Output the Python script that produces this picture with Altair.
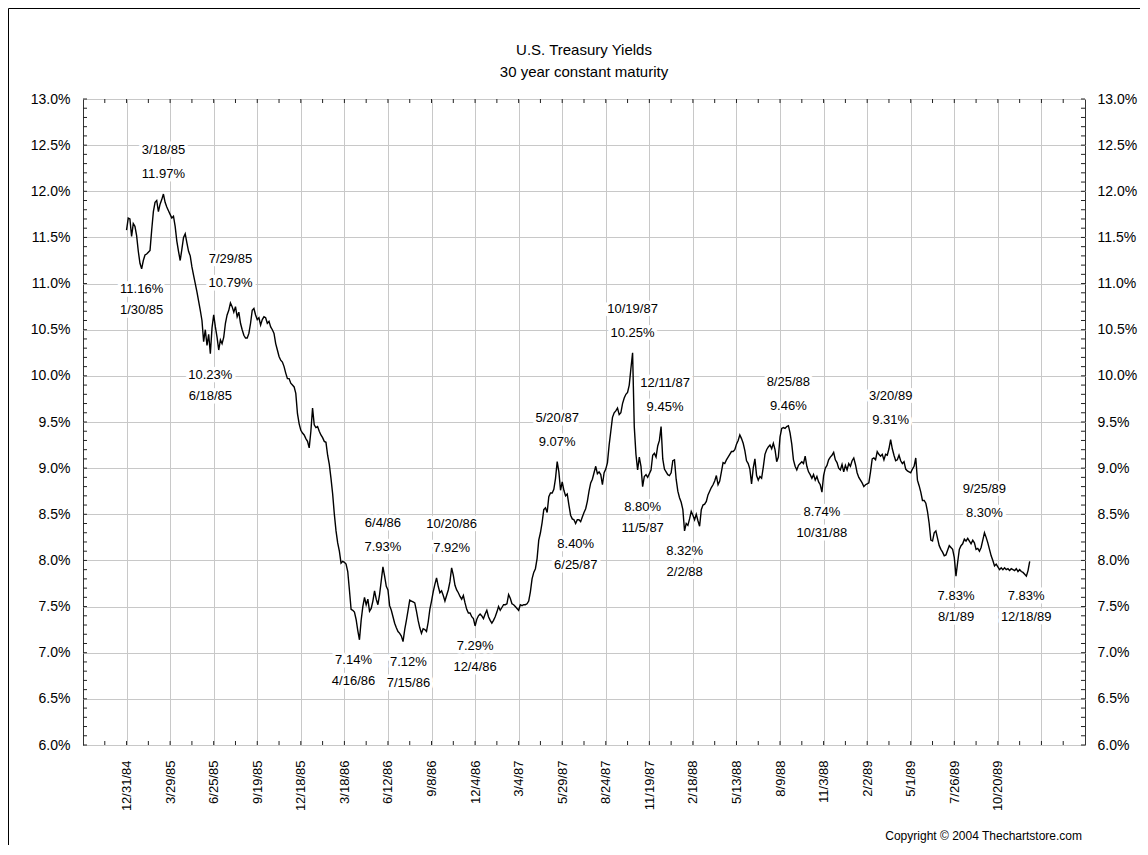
import altair as alt
import pandas as pd

TITLE = "U.S. Treasury Yields"
SUBTITLE = "30 year constant maturity"
COPYRIGHT = "Copyright © 2004 Thechartstore.com"
FONT = "Liberation Sans"

# x axis: one unit = one labelled period (~62 trading days)
date_labels = ["12/31/84", "3/29/85", "6/25/85", "9/19/85", "12/18/85", "3/18/86",
               "6/12/86", "9/8/86", "12/4/86", "3/4/87", "5/29/87", "8/24/87",
               "11/19/87", "2/18/88", "5/13/88", "8/9/88", "11/3/88", "2/2/89",
               "5/1/89", "7/26/89", "10/20/89"]

# yields sampled 26 times per period, starting 12/31/84
SAMPLES_PER_PERIOD = 26
yields = [
    11.58, 11.71, 11.70, 11.51, 11.65, 11.62, 11.52, 11.35, 11.22, 11.16,
    11.25, 11.31, 11.32, 11.34, 11.36, 11.58, 11.78, 11.88, 11.90, 11.78,
    11.86, 11.91, 11.97, 11.88, 11.83, 11.79, 11.75, 11.71, 11.73, 11.62,
    11.46, 11.35, 11.25, 11.37, 11.50, 11.54, 11.44, 11.35, 11.30, 11.18,
    11.09, 11.00, 10.91, 10.81, 10.71, 10.60, 10.37, 10.50, 10.33, 10.45,
    10.24, 10.52, 10.66, 10.53, 10.42, 10.28, 10.39, 10.35, 10.42, 10.57,
    10.66, 10.71, 10.79, 10.75, 10.69, 10.75, 10.64, 10.69, 10.57, 10.50,
    10.44, 10.41, 10.41, 10.46, 10.57, 10.71, 10.73, 10.66, 10.61, 10.63,
    10.55, 10.61, 10.64, 10.63, 10.57, 10.59, 10.53, 10.50, 10.46, 10.35,
    10.28, 10.21, 10.17, 10.15, 10.10, 10.03, 9.97, 9.97, 9.92, 9.90,
    9.88, 9.81, 9.59, 9.48,
    9.41, 9.38, 9.36, 9.32, 9.29, 9.22, 9.40, 9.65, 9.47, 9.44,
    9.45, 9.40, 9.36, 9.33, 9.29, 9.28, 9.14, 9.04, 8.89, 8.72,
    8.50, 8.32, 8.19, 8.10, 7.97, 7.99, 7.98, 7.96, 7.88, 7.68,
    7.47, 7.46, 7.44, 7.36, 7.24, 7.14, 7.35, 7.50, 7.60, 7.52,
    7.58, 7.45, 7.48, 7.56, 7.67, 7.58, 7.52, 7.63, 7.78, 7.93,
    7.83, 7.72, 7.68, 7.51, 7.46, 7.39, 7.32, 7.27, 7.23, 7.21,
    7.18, 7.12, 7.25, 7.35, 7.46, 7.57, 7.56, 7.55, 7.54, 7.45,
    7.35, 7.27, 7.21, 7.26, 7.25, 7.23, 7.33, 7.47, 7.56, 7.66,
    7.74, 7.81, 7.72, 7.65, 7.67, 7.62, 7.56, 7.62, 7.68, 7.77,
    7.92, 7.84, 7.73, 7.68, 7.65, 7.61, 7.58, 7.62, 7.54, 7.47,
    7.43, 7.43, 7.39, 7.37, 7.29, 7.36, 7.40,
    7.42, 7.40, 7.37, 7.42, 7.46, 7.39, 7.35, 7.32, 7.35, 7.39,
    7.44, 7.50, 7.46, 7.49, 7.52, 7.52, 7.53, 7.63, 7.59, 7.53,
    7.52, 7.50, 7.48, 7.46, 7.52, 7.51, 7.52, 7.52, 7.53, 7.56,
    7.66, 7.80, 7.87, 7.91, 8.02, 8.22, 8.30, 8.41, 8.55, 8.57,
    8.52, 8.69, 8.73, 8.73, 8.77, 8.89, 9.07, 8.96, 8.76, 8.85,
    8.76, 8.70, 8.72, 8.60, 8.49, 8.45, 8.44, 8.40, 8.44, 8.44,
    8.42, 8.47, 8.52, 8.56, 8.64, 8.75, 8.84, 8.88, 8.95, 9.02,
    8.94, 8.96, 8.93, 8.82, 8.95, 8.99, 9.06, 9.25, 9.40, 9.55,
    9.60, 9.62, 9.65, 9.58, 9.60, 9.70, 9.76, 9.80, 9.82, 9.90,
    10.08, 10.25, 9.45, 9.15, 8.98, 9.12, 9.02, 8.80, 8.91, 8.93,
    8.90, 8.94, 8.98, 9.14, 9.16, 9.12, 9.24, 9.30,
    9.45, 9.10, 8.99, 8.96, 8.93, 8.92, 8.95, 9.08, 9.09, 8.88,
    8.75, 8.68, 8.63, 8.55, 8.32, 8.40, 8.38, 8.45, 8.53, 8.49,
    8.44, 8.50, 8.43, 8.37, 8.55, 8.60, 8.61, 8.64, 8.71, 8.75,
    8.79, 8.82, 8.86, 8.92, 8.82, 8.86, 8.96, 9.06, 9.05, 9.09,
    9.12, 9.15, 9.18, 9.18, 9.20, 9.26, 9.30, 9.36, 9.32, 9.27,
    9.19, 9.08, 9.05, 8.99, 8.83, 9.00, 9.10, 8.92, 8.87, 8.91,
    8.89, 9.01, 9.15, 9.20, 9.23, 9.25, 9.21, 9.27, 9.20, 9.07,
    9.12, 9.34, 9.43, 9.44, 9.43, 9.45, 9.46, 9.38, 9.26, 9.09,
    9.02, 8.98, 9.03, 9.05, 9.07, 9.05, 9.13, 9.02, 8.96, 8.93,
    8.89, 8.93, 8.87, 8.91, 8.85, 8.82, 8.74, 8.92, 9.00, 9.03,
    9.09, 9.12, 9.14, 9.17, 9.09, 9.06, 9.00,
    8.98, 9.04, 8.96, 9.03, 8.98, 9.05, 9.02, 9.08, 9.11, 9.04,
    8.95, 8.90, 8.87, 8.84, 8.80, 8.82, 8.83, 8.84, 8.96, 9.10,
    9.11, 9.09, 9.18, 9.15, 9.13, 9.15, 9.09, 9.15, 9.14, 9.21,
    9.31, 9.21, 9.14, 9.08, 9.09, 9.14, 9.08, 9.05, 9.07, 8.99,
    8.97, 8.96, 8.95, 8.99, 9.02, 9.11, 8.87, 8.81, 8.74, 8.65,
    8.65, 8.62, 8.53, 8.40, 8.22, 8.21, 8.30, 8.32, 8.24, 8.16,
    8.12, 8.09, 8.05, 8.06, 8.11, 8.16, 8.14, 8.12, 8.03, 7.83,
    7.98, 8.12, 8.16, 8.18, 8.23, 8.21, 8.24, 8.21, 8.18, 8.22,
    8.19, 8.12, 8.13, 8.10, 8.14, 8.22, 8.30, 8.25, 8.19, 8.12,
    8.05, 8.00, 7.94, 7.96, 7.93, 7.90, 7.92, 7.90, 7.92, 7.90,
    7.91, 7.89, 7.91, 7.90, 7.89, 7.91, 7.88, 7.90, 7.88, 7.87,
    7.85, 7.83, 7.89, 7.99,
]

# annotated highs / lows (position in periods, value, date, label side)
ann_period = [0.846, 0.346, 2.385, 1.923, 5.21, 5.885, 6.47, 7.462, 8.0, 9.885,
              10.31, 11.615, 11.846, 12.36, 12.81, 15.19, 15.96, 17.54, 19.04,
              19.69, 20.65]
ann_value = [11.97, 11.16, 10.79, 10.23, 7.14, 7.93, 7.12, 7.92, 7.29, 9.07,
             8.40, 10.25, 8.80, 9.45, 8.32, 9.46, 8.74, 9.31, 7.83, 8.30, 7.83]
ann_date = ["3/18/85", "1/30/85", "7/29/85", "6/18/85", "4/16/86", "6/4/86",
            "7/15/86", "10/20/86", "12/4/86", "5/20/87", "6/25/87", "10/19/87",
            "11/5/87", "12/11/87", "2/2/88", "8/25/88", "10/31/88", "3/20/89",
            "8/1/89", "9/25/89", "12/18/89"]
ann_side = ["above", "below", "above", "below", "below", "above", "below",
            "above", "below", "above", "below", "above", "below", "above",
            "below", "above", "below", "above", "below", "above", "below"]

y_major = [6.0 + 0.5 * j for j in range(15)]
y_minor = [round(6.0 + 0.1 * j, 1) for j in range(71)]
x_minor = [0.5 * j for j in range(-1, 44)]

W, H = 1002, 646
xs = alt.Scale(domain=[-1, 22], nice=False, zero=False)
ys = alt.Scale(domain=[6, 13], nice=False, zero=False)

series = pd.DataFrame({
    "period": [i / SAMPLES_PER_PERIOD for i in range(len(yields))],
    "yield": yields,
})
ann = pd.DataFrame({"period": ann_period, "value": ann_value,
                    "date": ann_date, "side": ann_side,
                    "pct": [f"{v:.2f}%" for v in ann_value]})

label_expr = "[" + ",".join(f"'{d}'" for d in date_labels) + "][datum.value] || ''"
pct_expr = "format(datum.value, '.1f') + '%'"

line = alt.Chart(series).mark_line(color="black", strokeWidth=1.4).encode(
    x=alt.X("period:Q", scale=xs,
            axis=alt.Axis(values=list(range(22)), labelExpr=label_expr, labelAngle=-90,
                          labelAlign="right", labelBaseline="middle", labelPadding=15,
                          labelFontSize=13, ticks=False, domain=False, grid=True,
                          title=None)),
    y=alt.Y("yield:Q", scale=ys,
            axis=alt.Axis(values=y_major, labelExpr=pct_expr, ticks=False,
                          domain=False, grid=True, labelPadding=13, title=None)),
)

ytick_src = pd.DataFrame({"v": y_minor})
xtick_src = pd.DataFrame({"p": x_minor})

left_ticks = alt.Chart(ytick_src).mark_rule(color="#222").encode(
    y=alt.Y("v:Q", scale=ys, axis=None), x=alt.value(0), x2=alt.value(4))
right_ticks = alt.Chart(ytick_src).mark_rule(color="#222").encode(
    y=alt.Y("v:Q", scale=ys,
            axis=alt.Axis(orient="right", values=y_major, labelExpr=pct_expr, ticks=False,
                          domain=False, grid=False, labelPadding=12, title=None)),
    x=alt.value(W - 4), x2=alt.value(W))
bottom_ticks = alt.Chart(xtick_src).mark_rule(color="#222").encode(
    x=alt.X("p:Q", scale=xs, axis=None), y=alt.value(H - 4), y2=alt.value(H))
top_ticks = alt.Chart(xtick_src).mark_rule(color="#222").encode(
    x=alt.X("p:Q", scale=xs, axis=None), y=alt.value(0), y2=alt.value(4))


def text_layer(side, field, dy, halo):
    props = dict(font=FONT, fontSize=13, baseline="middle", align="center", dy=dy)
    if halo:
        props.update(color="white", stroke="white", strokeWidth=7, strokeJoin="round")
    else:
        props.update(color="black")
    return alt.Chart(ann).transform_filter(alt.datum.side == side).mark_text(**props).encode(
        x=alt.X("period:Q", scale=xs, axis=None),
        y=alt.Y("value:Q", scale=ys, axis=None),
        text=f"{field}:N")


specs = [("above", "pct", -20), ("above", "date", -44),
         ("below", "pct", 20), ("below", "date", 41)]
halos = [text_layer(s, f, d, True) for s, f, d in specs]
texts = [text_layer(s, f, d, False) for s, f, d in specs]

one_row = pd.DataFrame({"a": [0]})
frame_left = alt.Chart(one_row).mark_rule(color="black", strokeWidth=1).encode(
    x=alt.value(-74.5), y=alt.value(-90.5), y2=alt.value(H + 100))
frame_top = alt.Chart(one_row).mark_rule(color="black", strokeWidth=1).encode(
    x=alt.value(-74.5), x2=alt.value(W + 55), y=alt.value(-90.5))


def caption(text, y, size, align="center", x=W / 2):
    return alt.Chart(pd.DataFrame({"t": [text]})).mark_text(
        font=FONT, fontSize=size, align=align, baseline="middle", color="black").encode(
        x=alt.value(x), y=alt.value(y), text="t:N")


title_txt = caption(TITLE, -49, 15)
subtitle_txt = caption(SUBTITLE, -27, 15)
copyright_txt = caption(COPYRIGHT, 737, 12, align="right", x=999)

chart = alt.layer(
    line, *halos, left_ticks, right_ticks, bottom_ticks, top_ticks, *texts,
    frame_left, frame_top, title_txt, subtitle_txt, copyright_txt
).resolve_axis(x="independent", y="independent").properties(
    width=W, height=H,
    padding={"left": 75, "top": 91, "right": 55, "bottom": 100},
    autosize=alt.AutoSizeParams(type="none"),
).configure_axis(
    labelFont=FONT, labelFontSize=14, labelColor="black",
    gridColor="#c8c8c8", gridWidth=1, gridOpacity=1,
).configure_view(stroke="#333", strokeWidth=1)

chart.save("out.html", embed_options={"renderer": "svg", "actions": False})
